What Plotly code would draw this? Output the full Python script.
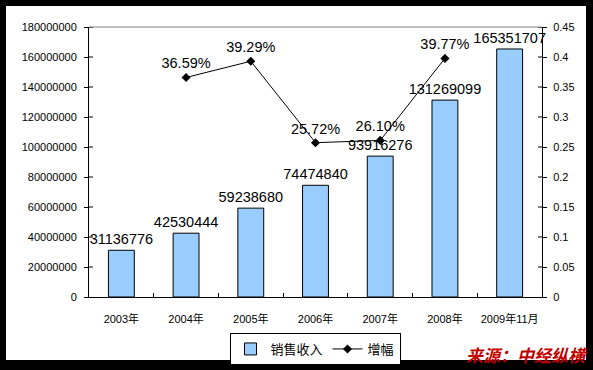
import plotly.graph_objects as go

categories = ["2003年", "2004年", "2005年", "2006年", "2007年", "2008年", "2009年11月"]
sales = [31136776, 42530444, 59238680, 74474840, 93916276, 131269099, 165351707]
growth_cats = ["2004年", "2005年", "2006年", "2007年", "2008年"]
growth = [0.3659, 0.3929, 0.2572, 0.2610, 0.3977]
growth_labels = ["36.59%", "39.29%", "25.72%", "26.10%", "39.77%"]
y_ticks = list(range(0, 180000001, 20000000))
y2_ticks = [0, 0.05, 0.1, 0.15, 0.2, 0.25, 0.3, 0.35, 0.4, 0.45]
y2_ticklabels = ["0", "0.05", "0.1", "0.15", "0.2", "0.25", "0.3", "0.35", "0.4", "0.45"]

W, H = 593, 370
L, R, T, B = 89, 51, 27, 73
pw, ph = W - L - R, H - T - B

def px(x):
    return (x - L) / pw

def py(y):
    return (H - B - y) / ph

font_main = "Arial, Liberation Sans, sans-serif"
font_cjk = "Arial, Liberation Sans, Noto Sans CJK SC, sans-serif"

fig = go.Figure()
fig.add_trace(go.Bar(
    x=categories, y=sales, name="销售收入",
    marker=dict(color="#99CCFF", line=dict(color="black", width=1)),
    width=0.4,
    text=[str(v) for v in sales], textposition="outside", constraintext="none",
    textfont=dict(family=font_main, size=14.5, color="black"),
    cliponaxis=False,
))
fig.add_trace(go.Scatter(
    x=growth_cats, y=growth, name="增幅", yaxis="y2",
    mode="lines+markers+text",
    line=dict(color="black", width=1),
    marker=dict(symbol="diamond", size=7, color="black"),
    text=growth_labels, textposition="top center",
    textfont=dict(family=font_main, size=14.5, color="black"),
    cliponaxis=False,
))

shapes = [
    dict(type="rect", xref="paper", yref="paper",
         x0=px(6), x1=px(586), y0=py(360), y1=py(6),
         fillcolor="white", line=dict(width=0), layer="below"),
    dict(type="line", xref="paper", yref="paper",
         x0=0, x1=1, y0=1, y1=1, line=dict(color="#808080", width=1)),
]
# inner halves of the "cross" tick marks on both value axes
for v in y_ticks[1:]:
    shapes.append(dict(type="line", xref="paper", yref="y", x0=0, x1=4 / pw, y0=v, y1=v,
                       line=dict(color="black", width=1)))
for v in y2_ticks[1:]:
    shapes.append(dict(type="line", xref="paper", yref="y2", x0=1 - 4 / pw, x1=1, y0=v, y1=v,
                       line=dict(color="black", width=1)))

fig.update_layout(
    width=W, height=H,
    margin=dict(l=L, r=R, t=T, b=B, pad=0, autoexpand=False),
    paper_bgcolor="black", plot_bgcolor="white",
    shapes=shapes,
    showlegend=True,
    legend=dict(orientation="h", xref="container", yref="container",
                x=315 / W, y=1 - 349 / H, xanchor="center", yanchor="middle",
                bordercolor="black", borderwidth=1, bgcolor="white",
                font=dict(family=font_cjk, size=13, color="black"),
                itemwidth=30, tracegroupgap=0),
    xaxis=dict(type="category", showgrid=False, showline=True, linecolor="black", linewidth=1,
               ticks="inside", ticklen=4, tickcolor="black", tickson="boundaries",
               tickangle=0, automargin=False, ticklabelstandoff=12,
               tickfont=dict(family=font_cjk, size=11, color="black"), fixedrange=True),
    yaxis=dict(range=[0, 180000000], tickvals=y_ticks, ticktext=[str(v) for v in y_ticks],
               showgrid=False, zeroline=False, showline=True, linecolor="black", linewidth=1,
               ticks="outside", ticklen=4, tickcolor="black", automargin=False,
               ticklabelstandoff=5,
               tickfont=dict(family=font_main, size=11, color="black")),
    yaxis2=dict(range=[0, 0.45], tickvals=y2_ticks, ticktext=y2_ticklabels,
                overlaying="y", side="right", automargin=False,
                showgrid=False, zeroline=False, showline=True, linecolor="black", linewidth=1,
                ticks="outside", ticklen=4, tickcolor="black", ticklabelstandoff=4,
                tickfont=dict(family=font_main, size=11, color="black")),
    annotations=[dict(text="<b><i>来源：中经纵横</i></b>", xref="paper", yref="paper",
                      x=px(527), y=py(354), xanchor="center", yanchor="middle", showarrow=False,
                      font=dict(family="Noto Sans CJK SC, sans-serif", size=17, color="#C00000"))],
)

fig.write_html("out.html", config={"displayModeBar": False},
               post_script="document.body.style.margin='0';document.body.style.background='black';")
